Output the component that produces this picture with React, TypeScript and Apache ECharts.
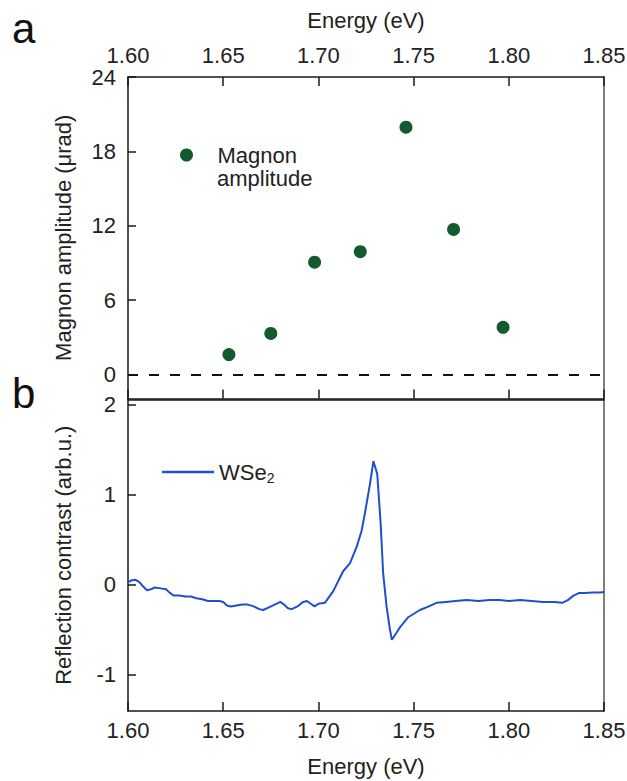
import React, { useEffect, useRef } from "react";
import * as echarts from "echarts";

const FONT = "Liberation Sans, Arial, sans-serif";

const magnonEnergy = [1.653, 1.675, 1.698, 1.722, 1.746, 1.771, 1.797];
const magnonAmp = [1.6, 3.3, 9.05, 9.9, 19.95, 11.7, 3.8];

const wseEnergy = [
  1.6, 1.602, 1.604, 1.606, 1.608, 1.61, 1.612, 1.614, 1.617, 1.62, 1.622, 1.624,
  1.627, 1.63, 1.633, 1.636, 1.639, 1.642, 1.645, 1.648, 1.65, 1.652, 1.654, 1.657,
  1.66, 1.663, 1.666, 1.669, 1.671, 1.674, 1.677, 1.68, 1.682, 1.684, 1.686, 1.689,
  1.692, 1.694, 1.696, 1.698, 1.7, 1.7034, 1.7078, 1.713, 1.7166, 1.7201, 1.7227,
  1.7244, 1.7271, 1.7289, 1.7309, 1.7327, 1.734, 1.7358, 1.7376, 1.7386, 1.7411,
  1.7429, 1.7472, 1.7533, 1.758, 1.762, 1.767, 1.772, 1.778, 1.784, 1.79, 1.795,
  1.8, 1.806, 1.812, 1.818, 1.824, 1.828, 1.831, 1.834, 1.837, 1.84, 1.844, 1.848, 1.85,
];
const wseContrast = [
  0.03, 0.05, 0.055, 0.03, -0.02, -0.06, -0.05, -0.03, -0.04, -0.05, -0.09, -0.12,
  -0.12, -0.13, -0.13, -0.15, -0.16, -0.18, -0.18, -0.18, -0.19, -0.23, -0.24, -0.23,
  -0.22, -0.22, -0.24, -0.27, -0.28, -0.25, -0.22, -0.19, -0.22, -0.26, -0.27, -0.24,
  -0.19, -0.18, -0.21, -0.24, -0.21, -0.2, -0.07, 0.15, 0.24, 0.42, 0.6,
  0.79, 1.12, 1.37, 1.23, 0.68, 0.13, -0.24, -0.5, -0.61, -0.53,
  -0.47, -0.36, -0.28, -0.24, -0.2, -0.19, -0.18, -0.17, -0.18, -0.17, -0.17,
  -0.18, -0.17, -0.18, -0.19, -0.19, -0.2, -0.17, -0.12, -0.09, -0.09, -0.085, -0.085, -0.08,
];

const xTicks = [1.6, 1.65, 1.7, 1.75, 1.8, 1.85];
const topYTicks = [0, 6, 12, 18, 24];
const bottomYTicks = [-1, 0, 1, 2];

const AXIS_COLOR = "#1a1a1a";
const GREEN = "#135a2c";
const BLUE = "#1f4fcc";

export default function App() {
  const ref = useRef<HTMLDivElement>(null);

  useEffect(() => {
    if (!ref.current) return;
    const chart = echarts.init(ref.current, undefined, { renderer: "svg" });

    const labelStyle = { fontFamily: FONT, fontSize: 22, color: "#222" };
    const axisLine = { show: true, onZero: false, lineStyle: { color: AXIS_COLOR, width: 1.5 } };
    const rightLine = { show: true, onZero: false, lineStyle: { color: "#555", width: 1.5 } };
    const tick = { show: true, inside: true, length: 9, lineStyle: { color: AXIS_COLOR, width: 1.5 } };

    const xBase = (gridIndex: number, position: string) => ({
      type: "value",
      gridIndex,
      position,
      min: 1.6,
      max: 1.85,
      interval: 0.05,
      splitLine: { show: false },
      axisLine,
    });

    const option: any = {
      animation: false,
      backgroundColor: "#fff",
      grid: [
        { left: 128, top: 77, width: 476, height: 321.5, outerBoundsMode: "none" },
        { left: 128, top: 399.5, width: 476, height: 311.5, outerBoundsMode: "none" },
      ],
      xAxis: [
        {
          ...xBase(0, "top"),
          name: "Energy (eV)",
          nameLocation: "middle",
          nameGap: 46,
          nameTextStyle: { ...labelStyle },
          axisTick: tick,
          axisLabel: {
            ...labelStyle,
            margin: 11,
            customValues: xTicks,
            formatter: (v: number) => v.toFixed(2),
          },
        },
        {
          ...xBase(0, "bottom"),
          axisTick: tick,
          axisLabel: { show: false },
        },
        {
          ...xBase(1, "bottom"),
          name: "Energy (eV)",
          nameLocation: "middle",
          nameGap: 44,
          nameTextStyle: { ...labelStyle },
          axisTick: tick,
          axisLabel: {
            ...labelStyle,
            margin: 8,
            customValues: xTicks,
            formatter: (v: number) => v.toFixed(2),
          },
        },
        {
          ...xBase(1, "top"),
          axisTick: { show: false },
          axisLabel: { show: false },
        },
      ],
      yAxis: [
        {
          type: "value",
          gridIndex: 0,
          position: "left",
          min: -1.95,
          max: 24,
          splitLine: { show: false },
          axisLine,
          name: "Magnon amplitude (\u03bcrad)",
          nameLocation: "middle",
          nameGap: 54,
          nameTextStyle: { ...labelStyle },
          axisTick: { ...tick, length: 8, customValues: topYTicks },
          axisLabel: { ...labelStyle, margin: 12, customValues: topYTicks },
        },
        {
          type: "value",
          gridIndex: 0,
          position: "right",
          min: -1.95,
          max: 24,
          splitLine: { show: false },
          axisLine: rightLine,
          axisTick: { show: false },
          axisLabel: { show: false },
        },
        {
          type: "value",
          gridIndex: 1,
          position: "left",
          min: -1.4,
          max: 2.055,
          splitLine: { show: false },
          axisLine,
          name: "Reflection contrast (arb.u.)",
          nameLocation: "middle",
          nameGap: 54,
          nameTextStyle: { ...labelStyle },
          axisTick: { ...tick, length: 8, customValues: bottomYTicks },
          axisLabel: { ...labelStyle, margin: 12, customValues: bottomYTicks },
        },
        {
          type: "value",
          gridIndex: 1,
          position: "right",
          min: -1.4,
          max: 2.055,
          splitLine: { show: false },
          axisLine: rightLine,
          axisTick: { show: false },
          axisLabel: { show: false },
        },
      ],
      legend: [
        {
          data: ["Magnon amplitude"],
          left: 175,
          top: 139,
          icon: "circle",
          itemWidth: 52,
          itemHeight: 13,
          formatter: () => "Magnon",
          textStyle: { ...labelStyle },
        },
        {
          data: ["WSe2"],
          left: 157,
          top: 456,
          icon: "rect",
          itemWidth: 52,
          itemHeight: 2.5,
          formatter: () => "WSe{s|2}",
          textStyle: {
            ...labelStyle,
            rich: {
              s: { fontFamily: FONT, fontSize: 14, color: "#222", padding: [12, 0, 0, 0] },
            },
          },
        },
      ],
      graphic: [
        {
          type: "text",
          left: 217,
          top: 167,
          style: { text: "amplitude", font: `22px ${FONT}`, fill: "#222" },
        },
        {
          type: "text",
          x: 12,
          y: 28,
          style: { text: "a", font: `42px ${FONT}`, fill: "#111", verticalAlign: "middle" },
        },
        {
          type: "text",
          x: 12,
          y: 393,
          style: { text: "b", font: `42px ${FONT}`, fill: "#111", verticalAlign: "middle" },
        },
      ],
      series: [
        {
          name: "Magnon amplitude",
          type: "scatter",
          xAxisIndex: 0,
          yAxisIndex: 0,
          symbol: "circle",
          symbolSize: 13,
          itemStyle: { color: GREEN, opacity: 1 },
          data: magnonEnergy.map((e, i) => [e, magnonAmp[i]]),
          markLine: {
            silent: true,
            symbol: ["none", "none"],
            label: { show: false },
            lineStyle: { color: "#111", width: 2, type: [10, 11] },
            data: [{ yAxis: 0 }],
          },
        },
        {
          name: "WSe2",
          type: "line",
          xAxisIndex: 2,
          yAxisIndex: 2,
          showSymbol: false,
          symbol: "none",
          lineStyle: { color: BLUE, width: 2 },
          itemStyle: { color: BLUE },
          data: wseEnergy.map((e, i) => [e, wseContrast[i]]),
        },
      ],
    };

    chart.setOption(option);
    return () => chart.dispose();
  }, []);

  return (
    <div
      ref={ref}
      style={{ position: "fixed", left: 0, top: 0, width: 627, height: 781, background: "#fff" }}
    />
  );
}
